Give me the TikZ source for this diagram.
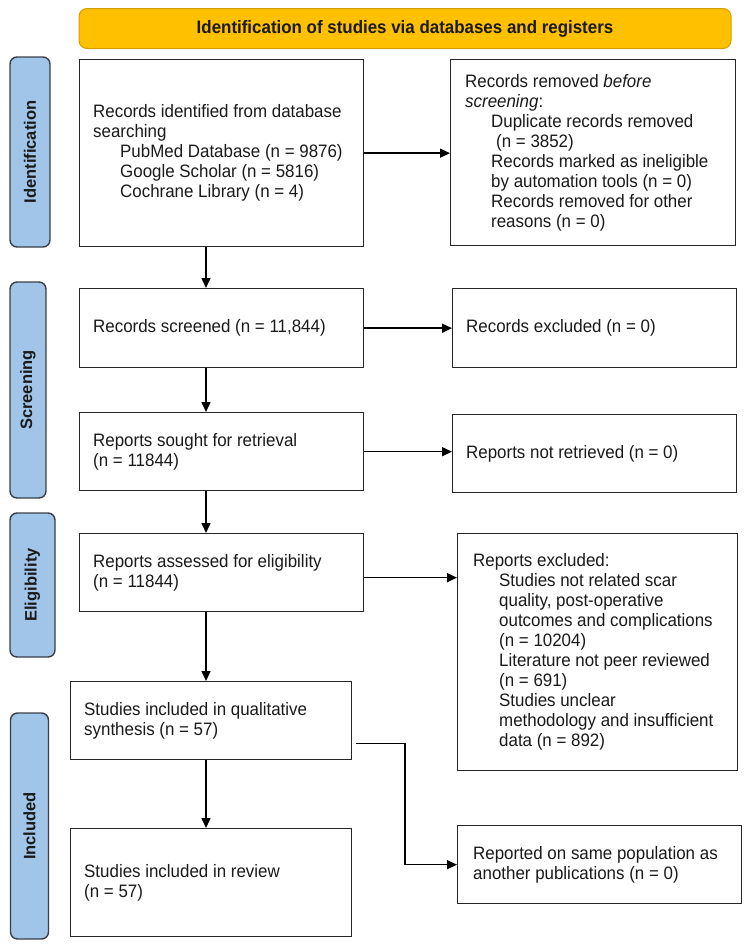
\documentclass[tikz,border=0pt]{standalone}
\usepackage{fontspec}
\setmainfont{Liberation Sans}[FakeStretch=0.94]
\newfontfamily\sidefont{Liberation Sans}
\usetikzlibrary{arrows.meta,calc}
\definecolor{boxc}{HTML}{262626}
\definecolor{sidefill}{HTML}{A1C4E9}
\definecolor{sidec}{HTML}{3A3F46}
\definecolor{banfill}{HTML}{FFC000}
\definecolor{banc}{HTML}{D39E00}
\definecolor{txt}{HTML}{1A1A1A}
\begin{document}
\begin{tikzpicture}[x=1pt,y=-1pt,
  box/.style={draw=boxc, line width=1.3pt, fill=white, inner sep=0pt, anchor=north west},
  txtn/.style={anchor=west, align=left, inner sep=0pt, text=txt, font=\fontsize{18}{20}\selectfont},
  side/.style={draw=sidec, fill=sidefill, line width=1.4pt, rounded corners=7pt,
    rotate=90, inner sep=0pt, text=txt, font=\sidefont\bfseries\fontsize{16.5}{18}\selectfont},
  banner/.style={draw=banc, fill=banfill, line width=1pt, rounded corners=8pt,
    inner sep=0pt, text=txt, font=\bfseries\fontsize{18}{20}\selectfont},
  arr/.style={draw=black, line width=1.5pt, -{Triangle[length=10pt,width=9pt]}},
  elb/.style={draw=black, line width=1.2pt, -{Triangle[length=10pt,width=9pt]}}]
\useasboundingbox (0,0) rectangle (750,945);

% banner
\node[banner, minimum width=652pt, minimum height=40pt] (ban) at (405,28.5)
  {Identification of studies via databases and registers};

% side labels
\node[side, minimum width=190pt, minimum height=40pt] (sid) at (30,152) {Identification};
\node[side, minimum width=216pt, minimum height=36pt] (ssc) at (28,390) {Screening};
\node[side, minimum width=144pt, minimum height=45pt] (sel) at (32.5,585) {Eligibility};
\node[side, minimum width=226pt, minimum height=38pt] (sin) at (29.5,826) {Included};

% boxes
\node[box, minimum width=284pt, minimum height=187pt] (A) at (79,59) {};
\node[box, minimum width=284pt, minimum height=79pt] (C) at (79,288) {};
\node[box, minimum width=284pt, minimum height=78pt] (E) at (79,412) {};
\node[box, minimum width=284pt, minimum height=78pt] (G) at (79,533) {};
\node[box, minimum width=281pt, minimum height=78pt] (I) at (70,681) {};
\node[box, minimum width=281pt, minimum height=108pt] (J) at (70,828) {};
\node[box, minimum width=285pt, minimum height=186pt] (B) at (450,59) {};
\node[box, minimum width=284pt, minimum height=79pt] (D) at (452,288) {};
\node[box, minimum width=284pt, minimum height=78pt] (F) at (452,414) {};
\node[box, minimum width=280pt, minimum height=237pt] (H) at (457,533) {};
\node[box, minimum width=284pt, minimum height=78pt] (K) at (457,825) {};

% texts
\node[txtn] (At) at ($(A.west)+(14,0)$)
  {Records identified from database\\searching\\
   \hspace*{27pt}PubMed Database (n = 9876)\\
   \hspace*{27pt}Google Scholar (n = 5816)\\
   \hspace*{27pt}Cochrane Library (n = 4)};
\node[txtn] (Ct) at ($(C.west)+(14,0)$) {Records screened (n = 11,844)};
\node[txtn] (Et) at ($(E.west)+(14,0)$) {Reports sought for retrieval\\(n = 11844)};
\node[txtn] (Gt) at ($(G.west)+(14,0)$) {Reports assessed for eligibility\\(n = 11844)};
\node[txtn] (It) at ($(I.west)+(14,0)$) {Studies included in qualitative\\synthesis (n = 57)};
\node[txtn] (Jt) at ($(J.west)+(14,0)$) {Studies included in review\\(n = 57)};
\node[txtn] (Bt) at ($(B.west)+(15,0)$)
  {Records removed \textit{before}\\\textit{screening}:\\
   \hspace*{26pt}Duplicate records removed\\
   \hspace*{31pt}(n = 3852)\\
   \hspace*{26pt}Records marked as ineligible\\
   \hspace*{26pt}by automation tools (n = 0)\\
   \hspace*{26pt}Records removed for other\\
   \hspace*{26pt}reasons (n = 0)};
\node[txtn] (Dt) at ($(D.west)+(14,0)$) {Records excluded (n = 0)};
\node[txtn] (Ft) at ($(F.west)+(14,0)$) {Reports not retrieved (n = 0)};
\node[txtn] (Ht) at ($(H.west)+(16,0)$)
  {Reports excluded:\\
   \hspace*{26pt}Studies not related scar\\
   \hspace*{26pt}quality, post-operative\\
   \hspace*{26pt}outcomes and complications\\
   \hspace*{26pt}(n = 10204)\\
   \hspace*{26pt}Literature not peer reviewed\\
   \hspace*{26pt}(n = 691)\\
   \hspace*{26pt}Studies unclear\\
   \hspace*{26pt}methodology and insufficient\\
   \hspace*{26pt}data (n = 892)};
\node[txtn] (Kt) at ($(K.west)+(16,0)$) {Reported on same population as\\another publications (n = 0)};

% connectors
\coordinate (vx) at (206,0);
\coordinate (bx) at (405,0);
\draw[arr] (A.south -| vx) -- (C.north -| vx);
\draw[arr] (C.south -| vx) -- (E.north -| vx);
\draw[arr] (E.south -| vx) -- (G.north -| vx);
\draw[arr] (G.south -| vx) -- (I.north -| vx);
\draw[arr] (I.south -| vx) -- (J.north -| vx);
\draw[arr] (A.east) -- (A.east -| B.west);
\draw[arr] (C.east) -- (C.east -| D.west);
\draw[arr] (E.east) -- (E.east -| F.west);
\draw[arr] ($(G.east)+(0,5)$) -- ($(G.east -| H.west)+(0,5)$);
\draw[elb] ($(I.east)+(4,23)$) -| (bx |- K.west) -- (K.west);
\end{tikzpicture}
\end{document}
